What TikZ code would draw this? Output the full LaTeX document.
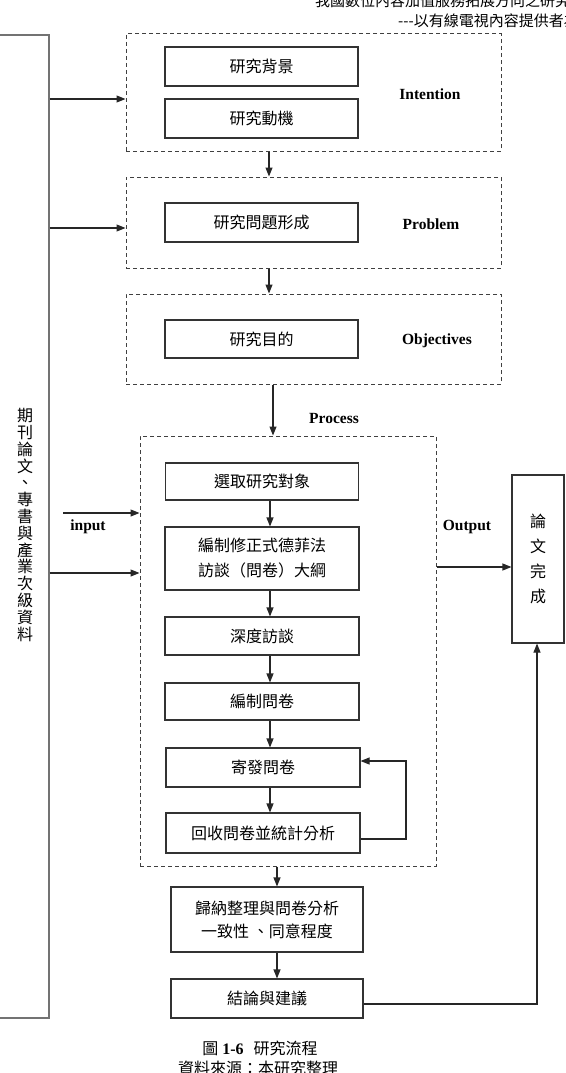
\documentclass[tikz,border=0pt]{standalone}
\usepackage{fontspec}
\setmainfont{Liberation Serif}
\newfontfamily\cjk{Noto Sans CJK TC}
\usetikzlibrary{arrows.meta}
\tikzset{
  box/.style={draw=black!80, line width=1.1pt, rectangle, inner sep=0pt, font=\cjk\fontsize{16}{24}\selectfont, align=center},
  dbox/.style={draw=black!75, line width=1pt, dash pattern=on 4pt off 3pt, rectangle, inner sep=0pt},
  arr/.style={draw=black!85, line width=1.1pt, -{Triangle[length=9pt,width=7pt]}},
  plain/.style={draw=black!85, line width=1.1pt},
  lab/.style={font=\bfseries\fontsize{15.5}{18}\selectfont, inner sep=0pt},
  hdr/.style={font=\cjk\fontsize{15}{17}\selectfont, inner sep=0pt, anchor=west},
}
\begin{document}
\begin{tikzpicture}[x=1pt,y=-1pt]
\useasboundingbox (0,0) rectangle (565,1073);
% header
\node[hdr] (h1) at (315,1) {我國數位內容加值服務拓展方向之研究};
\node[hdr] (h2) at (398,21) {---以有線電視內容提供者為例};
% left source box
\node[box, draw=black!55, minimum width=54pt, minimum height=983pt] (lb) at (22,526.5) {};
\node[font=\cjk\fontsize{16}{16.8}\selectfont, align=center, inner sep=0pt] (lbt) at (25,525)
  {期\\刊\\論\\文\\、\\專\\書\\與\\產\\業\\次\\級\\資\\料};
% dashed groups
\node[dbox, minimum width=375pt, minimum height=117pt] (D1) at (313.5,92.5) {};
\node[dbox, minimum width=375pt, minimum height=91pt] (D2) at (313.5,222.5) {};
\node[dbox, minimum width=375pt, minimum height=90pt] (D3) at (313.5,339) {};
\node[dbox, minimum width=296pt, minimum height=430pt] (D4) at (288,651) {};
% boxes
\node[box, minimum width=193pt, minimum height=39pt] (bg) at (261.5,66.5) {研究背景};
\node[box, minimum width=193pt, minimum height=39pt] (mot) at (261.5,118.5) {研究動機};
\node[box, minimum width=193pt, minimum height=39pt] (prob) at (261.5,222.5) {研究問題形成};
\node[box, minimum width=193pt, minimum height=38pt] (obj) at (261.5,339) {研究目的};
\node[box, minimum width=193pt, minimum height=37pt] (sel) at (262,481.5) {選取研究對象};
\node[box, minimum width=194pt, minimum height=63pt, font=\cjk\fontsize{16}{25}\selectfont] (del) at (262,558.5) {編制修正式德菲法\\訪談（問卷）大綱};
\node[box, minimum width=194pt, minimum height=38pt] (intv) at (262,636) {深度訪談};
\node[box, minimum width=194pt, minimum height=37pt] (comp) at (262,701.5) {編制問卷};
\node[box, minimum width=194pt, minimum height=39pt] (send) at (263,767.5) {寄發問卷};
\node[box, minimum width=194pt, minimum height=40pt] (coll) at (263,833) {回收問卷並統計分析};
\node[box, minimum width=192pt, minimum height=65pt, font=\cjk\fontsize{16}{23}\selectfont] (sum) at (267,919.5) {歸納整理與問卷分析\\一致性 、同意程度};
\node[box, minimum width=192pt, minimum height=39pt] (conc) at (267,998.5) {結論與建議};
\node[box, minimum width=52pt, minimum height=168pt, font=\cjk\fontsize{16}{25}\selectfont] (th) at (538,559) {論\\文\\完\\成};
% labels
\node[lab] (lI) at (430,94) {Intention};
\node[lab] (lP) at (431,224) {Problem};
\node[lab] (lO) at (437,341) {Objectives};
\node[lab] (lPr) at (334,418) {Process};
\node[lab] (lin) at (88,527) {input};
\node[lab] (lout) at (467,527) {Output};
% helper coordinates
\coordinate (y1) at (0,99);
\coordinate (y2) at (0,228);
\coordinate (y3) at (0,513);
\coordinate (y4) at (0,573);
\coordinate (y5) at (0,567);
\coordinate (y6) at (0,1004);
\coordinate (ya) at (0,839);
\coordinate (yb) at (0,761);
\coordinate (xa) at (269,0);
\coordinate (xb) at (273,0);
\coordinate (xc) at (270,0);
\coordinate (xd) at (277,0);
\coordinate (xe) at (537,0);
\coordinate (xl) at (406,0);
\coordinate (inS) at (63,513);
% connectors
\draw[arr] (lb.east |- y1) -- (D1.west |- y1);
\draw[arr] (lb.east |- y2) -- (D2.west |- y2);
\draw[arr] (inS) -- (D4.west |- y3);
\draw[arr] (lb.east |- y4) -- (D4.west |- y4);
\draw[arr] (D1.south -| xa) -- (D2.north -| xa);
\draw[arr] (D2.south -| xa) -- (D3.north -| xa);
\draw[arr] (D3.south -| xb) -- (D4.north -| xb);
\draw[arr] (sel.south -| xc) -- (del.north -| xc);
\draw[arr] (del.south -| xc) -- (intv.north -| xc);
\draw[arr] (intv.south -| xc) -- (comp.north -| xc);
\draw[arr] (comp.south -| xc) -- (send.north -| xc);
\draw[arr] (send.south -| xc) -- (coll.north -| xc);
\draw[arr] (coll.east |- ya) -- (xl |- ya) -- (xl |- yb) -- (send.east |- yb);
\draw[arr] (D4.south -| xd) -- (sum.north -| xd);
\draw[arr] (sum.south -| xd) -- (conc.north -| xd);
\draw[arr] (D4.east |- y5) -- (th.west |- y5);
\draw[arr] (conc.east |- y6) -- (xe |- y6) -- (th.south -| xe);
% caption
\node[inner sep=0pt, font=\fontsize{16}{18}\selectfont] (cap1) at (260,1048) {{\cjk 圖} {\bfseries 1-6}\hspace{10pt}{\cjk 研究流程}};
\node[inner sep=0pt, font=\cjk\fontsize{16}{18}\selectfont] (cap2) at (258,1068) {資料來源：本研究整理};
\end{tikzpicture}
\end{document}
